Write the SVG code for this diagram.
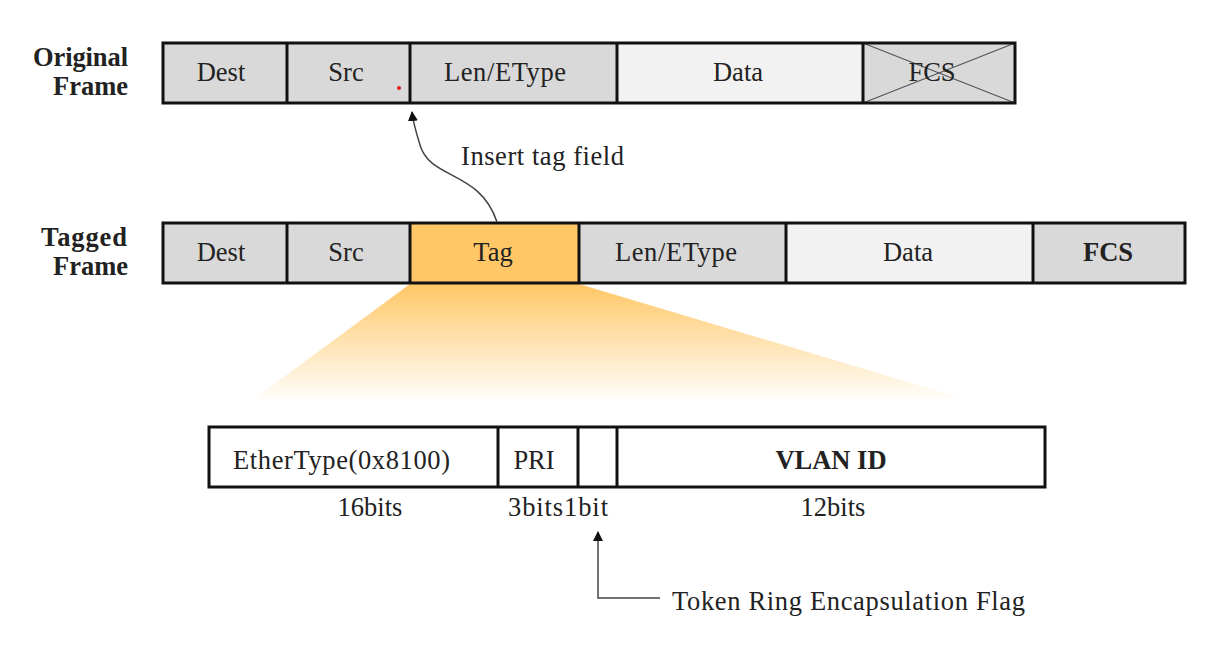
<svg xmlns="http://www.w3.org/2000/svg" width="1213" height="660" viewBox="0 0 1213 660">
<style>
text{font-family:"Liberation Serif","Times New Roman",serif;font-size:26.5px;fill:#222}
.b{font-weight:bold}
.c{text-anchor:middle}
.r{text-anchor:end}
.box{stroke:#111;stroke-width:3}
.g{fill:#d9d9d9}
.l{fill:#f2f2f2}
.w{fill:#fff}
.t{fill:#ffc766}
.div{stroke:#111;stroke-width:3}
.thin{stroke:#444;stroke-width:1.5;fill:none}
</style>
<defs>
<linearGradient id="fan" x1="0" y1="0" x2="0" y2="1">
<stop offset="0" stop-color="#ffc766" stop-opacity="1"/>
<stop offset="1" stop-color="#ffc766" stop-opacity="0"/>
</linearGradient>
<marker id="ah" markerWidth="10" markerHeight="10" refX="9" refY="5" orient="auto" markerUnits="userSpaceOnUse">
<path d="M0,0 L10,5 L0,10 z" fill="#111"/>
</marker>
</defs>
<polygon points="410,284 579,284 975,402 250,402" fill="url(#fan)"/>
<g id="labels">
<text class="b r" x="128" y="66" textLength="95">Original</text>
<text class="b r" x="128" y="95">Frame</text>
<text class="b r" x="127" y="246" textLength="86">Tagged</text>
<text class="b r" x="128" y="275">Frame</text>
</g>
<g id="original-frame">
<rect class="g" x="163" y="43" width="124" height="60"/>
<rect class="g" x="287" y="43" width="123" height="60"/>
<rect class="g" x="410" y="43" width="207" height="60"/>
<rect class="l" x="617" y="43" width="246" height="60"/>
<rect class="g" x="863" y="43" width="152" height="60"/>
<line x1="863" y1="43" x2="1015" y2="103" stroke="#555" stroke-width="1.2"/>
<line x1="863" y1="103" x2="1015" y2="43" stroke="#555" stroke-width="1.2"/>
<rect class="box" x="163" y="43" width="852" height="60" fill="none"/>
<line class="div" x1="287" y1="43" x2="287" y2="103"/>
<line class="div" x1="410" y1="43" x2="410" y2="103"/>
<line class="div" x1="617" y1="43" x2="617" y2="103"/>
<line class="div" x1="863" y1="43" x2="863" y2="103"/>
<text class="c" x="221" y="81">Dest</text>
<text class="c" x="346" y="81">Src</text>
<text class="c" x="505" y="81" textLength="122">Len/EType</text>
<text class="c" x="738" y="81">Data</text>
<text class="c" x="932" y="81">FCS</text>
<circle cx="399" cy="88" r="2" fill="#e02020"/>
</g>
<g id="tagged-frame">
<rect class="g" x="163" y="223" width="124" height="60"/>
<rect class="g" x="287" y="223" width="123" height="60"/>
<rect class="t" x="410" y="223" width="169" height="60"/>
<rect class="g" x="579" y="223" width="207" height="60"/>
<rect class="l" x="786" y="223" width="247" height="60"/>
<rect class="g" x="1033" y="223" width="152" height="60"/>
<rect class="box" x="163" y="223" width="1022" height="60" fill="none"/>
<line class="div" x1="287" y1="223" x2="287" y2="283"/>
<line class="div" x1="410" y1="223" x2="410" y2="283"/>
<line class="div" x1="579" y1="223" x2="579" y2="283"/>
<line class="div" x1="786" y1="223" x2="786" y2="283"/>
<line class="div" x1="1033" y1="223" x2="1033" y2="283"/>
<text class="c" x="221" y="261">Dest</text>
<text class="c" x="346" y="261">Src</text>
<text class="c" x="493" y="261">Tag</text>
<text class="c" x="676" y="261" textLength="122">Len/EType</text>
<text class="c" x="908" y="261">Data</text>
<text class="c b" x="1108" y="261">FCS</text>
</g>
<g id="tag-detail">
<rect class="w" x="209" y="427" width="836" height="60"/>
<rect class="box" x="209" y="427" width="836" height="60" fill="none"/>
<line class="div" x1="498" y1="427" x2="498" y2="487"/>
<line class="div" x1="578" y1="427" x2="578" y2="487"/>
<line class="div" x1="617" y1="427" x2="617" y2="487"/>
<text x="233" y="469" textLength="217">EtherType(0x8100)</text>
<text class="c" x="534" y="469">PRI</text>
<text class="c b" x="831" y="469">VLAN ID</text>
<text class="c" x="370" y="516">16bits</text>
<text class="c" x="558" y="516" textLength="100">3bits1bit</text>
<text class="c" x="833" y="516">12bits</text>
<text x="672" y="610" textLength="353">Token Ring Encapsulation Flag</text>
</g>
<g id="connectors">
<path class="thin" d="M497,222 C480,170 430,180 420,145 C416,132 413,122 412,112" marker-end="url(#ah)"/>
<path class="thin" d="M660,598 L598,598 L598,532" marker-end="url(#ah)"/>
<text x="461" y="165" textLength="163">Insert tag field</text>
</g>
</svg>
